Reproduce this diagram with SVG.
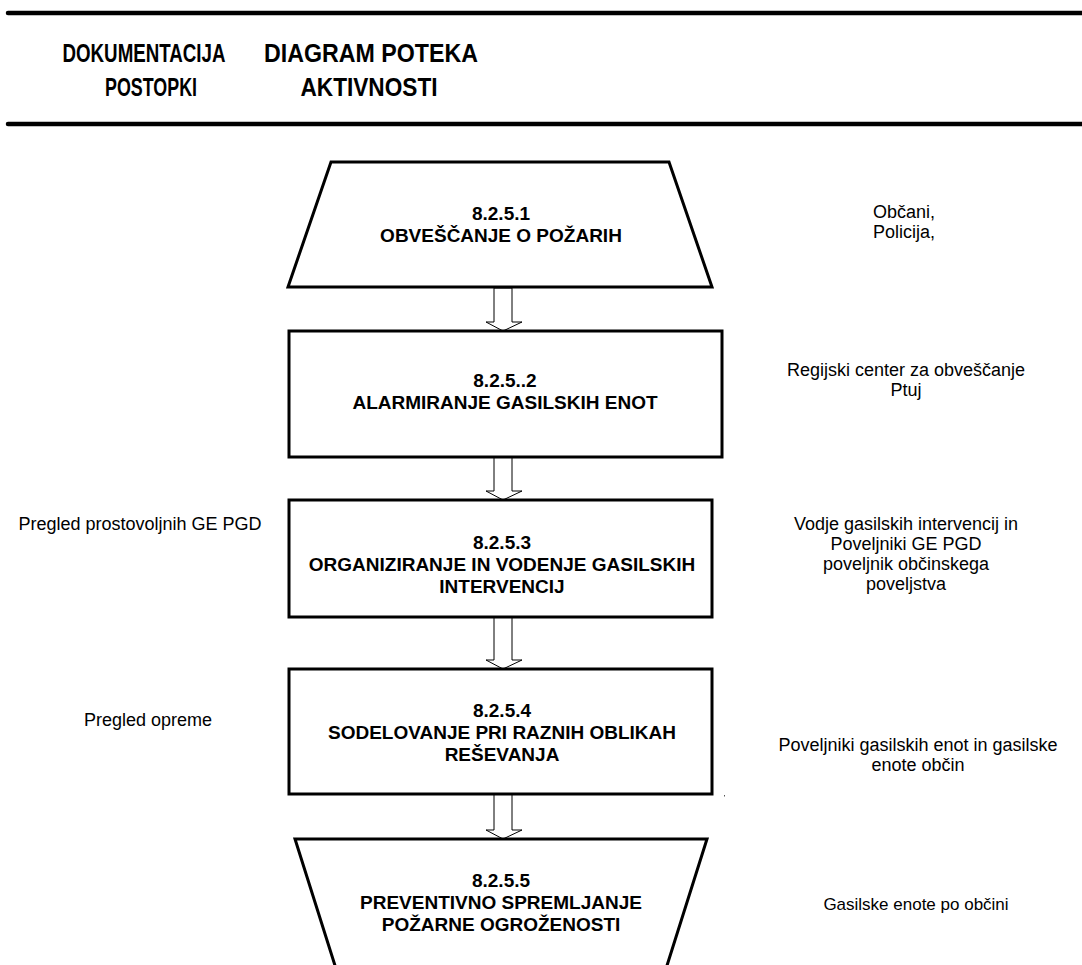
<svg xmlns="http://www.w3.org/2000/svg" width="1082" height="965" viewBox="0 0 1082 965">
<style>
.rule{stroke:#000;stroke-width:4.5;stroke-linecap:round;fill:none}
.hd{font-family:"Liberation Sans",Arial,sans-serif;font-weight:bold;font-size:25px;fill:#000;text-anchor:middle}
.shape{fill:#fff;stroke:#000;stroke-width:3;stroke-linejoin:miter}
.bt{font-family:"Liberation Sans",Arial,sans-serif;font-weight:bold;font-size:19px;fill:#000;text-anchor:middle}
.st{font-family:"Liberation Sans",Arial,sans-serif;font-size:18px;fill:#000;text-anchor:middle}
.arr{fill:#fff;stroke:#000;stroke-width:1}
</style>
<rect width="1082" height="965" fill="#fff"/>
<g id="header">
<line class="rule" x1="8" y1="13" x2="1084" y2="13"/>
<line class="rule" x1="8" y1="124" x2="1084" y2="124"/>
<text class="hd" x="144" y="62" textLength="163" lengthAdjust="spacingAndGlyphs">DOKUMENTACIJA</text>
<text class="hd" x="151" y="96" textLength="92" lengthAdjust="spacingAndGlyphs">POSTOPKI</text>
<text class="hd" x="371" y="62" textLength="214" lengthAdjust="spacingAndGlyphs">DIAGRAM POTEKA</text>
<text class="hd" x="369" y="96" textLength="137" lengthAdjust="spacingAndGlyphs">AKTIVNOSTI</text>
</g>
<g id="connectors">
<polygon class="arr" points="494,288 512,288 512,322 522,322 503,331 486,322 494,322"/>
<polygon class="arr" points="494,457 512,457 512,491 522,491 503,500 486,491 494,491"/>
<polygon class="arr" points="494,617 512,617 512,660 522,660 503,669 486,660 494,660"/>
<polygon class="arr" points="494,794 512,794 512,830 522,830 503,839 486,830 494,830"/>
</g>
<g id="n1">
<polygon class="shape" points="331,162 669,162 712,287 288,287"/>
<text class="bt" x="501" y="220">8.2.5.1</text>
<text class="bt" x="501" y="242">OBVEŠČANJE O POŽARIH</text>
</g>
<g id="n2">
<rect class="shape" x="289" y="331" width="433" height="126"/>
<text class="bt" x="505" y="387">8.2.5..2</text>
<text class="bt" x="505" y="409">ALARMIRANJE GASILSKIH ENOT</text>
</g>
<g id="n3">
<rect class="shape" x="289" y="500" width="423" height="117"/>
<text class="bt" x="502" y="549">8.2.5.3</text>
<text class="bt" x="502" y="571">ORGANIZIRANJE IN VODENJE GASILSKIH</text>
<text class="bt" x="502" y="593">INTERVENCIJ</text>
</g>
<g id="n4">
<rect class="shape" x="289" y="669" width="423" height="125"/>
<text class="bt" x="502" y="717">8.2.5.4</text>
<text class="bt" x="502" y="739">SODELOVANJE PRI RAZNIH OBLIKAH</text>
<text class="bt" x="502" y="761">REŠEVANJA</text>
</g>
<g id="n5">
<polygon class="shape" points="295,839 707,839 664,975 338,975"/>
<text class="bt" x="501" y="887">8.2.5.5</text>
<text class="bt" x="501" y="909">PREVENTIVNO SPREMLJANJE</text>
<text class="bt" x="501" y="931">POŽARNE OGROŽENOSTI</text>
</g>
<g id="side-notes">
<text class="st" x="904" y="218">Občani,</text>
<text class="st" x="904" y="238">Policija,</text>
<text class="st" x="906" y="376">Regijski center za obveščanje</text>
<text class="st" x="906" y="396">Ptuj</text>
<text class="st" x="140" y="530">Pregled prostovoljnih GE PGD</text>
<text class="st" x="906" y="530">Vodje gasilskih intervencij in</text>
<text class="st" x="906" y="550">Poveljniki GE PGD</text>
<text class="st" x="906" y="570">poveljnik občinskega</text>
<text class="st" x="906" y="590">poveljstva</text>
<text class="st" x="148" y="726">Pregled opreme</text>
<text class="st" x="918" y="751">Poveljniki gasilskih enot in gasilske</text>
<text class="st" x="918" y="771">enote občin</text>
<text class="st" x="916" y="910" style="font-size:17px">Gasilske enote po občini</text>
<rect x="724" y="795" width="1" height="1.5" fill="#555"/>
</g>
</svg>
